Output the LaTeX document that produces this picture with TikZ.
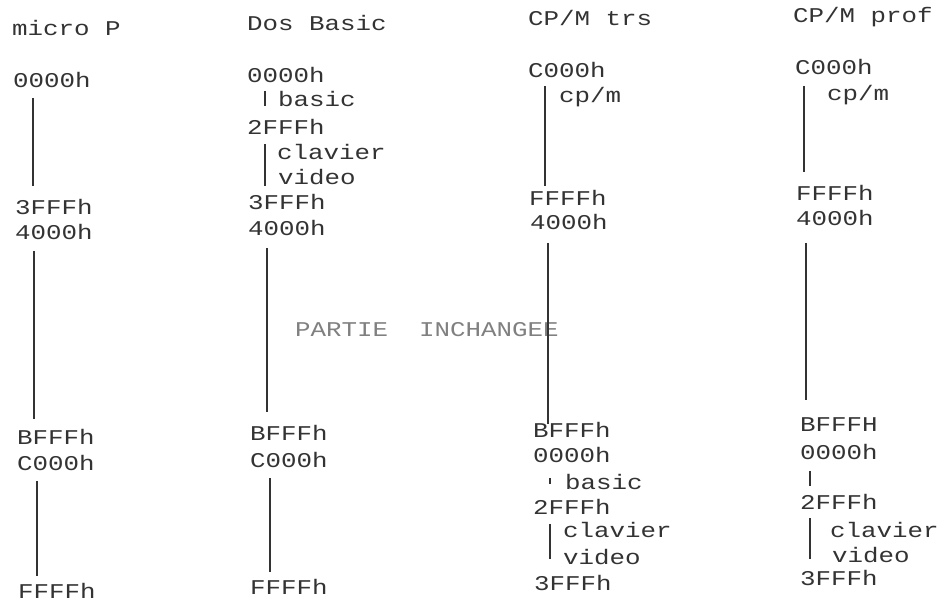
\documentclass[tikz,border=0pt]{standalone}
\usepackage{fontspec}
\newfontfamily\dotfont[FakeStretch=1.23]{Liberation Mono}
\usetikzlibrary{positioning}

\tikzset{
	addr/.style={anchor=west, inner sep=0pt, text=black!80, font={\fontsize{21}{21}\dotfont}},
	note/.style={addr, text=black!50},
	memline/.style={line width=1.1pt, draw=black!80},
}

\begin{document}
\begin{tikzpicture}[x=1pt, y=-1pt]
	\useasboundingbox (0,0) rectangle (939,605);

	% micro P
	\node[addr](mpTitle) at (12,28){micro P};
	\node[addr](mp0000) at (13,80){0000h};
	\node[addr](mp3FFF) at (15,207){3FFFh};
	\node[addr](mp4000) at (15,232){4000h};
	\node[addr](mpBFFF) at (17,437){BFFFh};
	\node[addr](mpC000) at (17,463){C000h};
	\node[addr](mpFFFF) at (18,591){FFFFh};
	\draw[memline, shorten <=10pt, shorten >=13pt] ([xshift=20pt]mp0000.south west) -- ([xshift=20pt]mp0000.south west |- mp3FFF.north);
	\draw[memline, shorten <=11pt, shorten >=10pt] ([xshift=19pt]mp4000.south west) -- ([xshift=19pt]mp4000.south west |- mpBFFF.north);
	\draw[memline, shorten <=10pt, shorten >=7pt] ([xshift=20pt]mpC000.south west) -- ([xshift=20pt]mpC000.south west |- mpFFFF.north);

	% Dos Basic
	\node[addr](dbTitle) at (247,23){Dos Basic};
	\node[addr](db0000) at (247,75){0000h};
	\node[addr](dbBasic) at (278,99){basic};
	\node[addr](db2FFF) at (247,127){2FFFh};
	\node[addr](dbClavier) at (277,152){clavier};
	\node[addr](dbVideo) at (278,177){video};
	\node[addr](db3FFF) at (248,202){3FFFh};
	\node[addr](db4000) at (248,228){4000h};
	\node[addr](dbBFFF) at (250,433){BFFFh};
	\node[addr](dbC000) at (250,460){C000h};
	\node[addr](dbFFFF) at (250,587){FFFFh};
	\draw[memline, shorten <=8pt, shorten >=13pt] ([xshift=18pt]db0000.south west) -- ([xshift=18pt]db0000.south west |- db2FFF.north);
	\draw[memline, shorten <=9pt, shorten >=8pt] ([xshift=18pt]db2FFF.south west) -- ([xshift=18pt]db2FFF.south west |- db3FFF.north);
	\draw[memline, shorten <=12pt, shorten >=13pt] ([xshift=19pt]db4000.south west) -- ([xshift=19pt]db4000.south west |- dbBFFF.north);
	\draw[memline, shorten <=10pt, shorten >=7pt] ([xshift=20pt]dbC000.south west) -- ([xshift=20pt]dbC000.south west |- dbFFFF.north);

	\node[note](partie) at (295,330){PARTIE\ \ INCHANGEE};

	% CP/M trs
	\node[addr](ctTitle) at (528,18){CP/M trs};
	\node[addr](ctC000) at (528,70){C000h};
	\node[addr](ctCpm) at (559,97){cp/m};
	\node[addr](ctFFFF) at (529,198){FFFFh};
	\node[addr](ct4000) at (530,222){4000h};
	\node[addr](ctBFFF) at (533,430){BFFFh};
	\node[addr](ct0000) at (533,455){0000h};
	\node[addr](ctBasic) at (565,482){basic};
	\node[addr](ct2FFF) at (533,507){2FFFh};
	\node[addr](ctClavier) at (563,530){clavier};
	\node[addr](ctVideo) at (563,557){video};
	\node[addr](ct3FFF) at (534,583){3FFFh};
	\draw[memline, shorten <=8pt, shorten >=4pt] ([xshift=17pt]ctC000.south west) -- ([xshift=17pt]ctC000.south west |- ctFFFF.north);
	\draw[memline, shorten <=13pt, shorten >=-2pt] ([xshift=18pt]ct4000.south west) -- ([xshift=18pt]ct4000.south west |- ctBFFF.north);
	\draw[memline, shorten <=15pt, shorten >=15pt] ([xshift=17pt]ct0000.south west) -- ([xshift=17pt]ct0000.south west |- ct2FFF.north);
	\draw[memline, shorten <=9pt, shorten >=16pt] ([xshift=17pt]ct2FFF.south west) -- ([xshift=17pt]ct2FFF.south west |- ct3FFF.north);

	% CP/M prof
	\node[addr](cpTitle) at (793,17){CP/M prof};
	\node[addr](cpC000) at (795,67){C000h};
	\node[addr](cpCpm) at (827,95){cp/m};
	\node[addr](cpFFFF) at (796,193){FFFFh};
	\node[addr](cp4000) at (796,218){4000h};
	\node[addr](cpBFFF) at (800,425){BFFFH};
	\node[addr](cp0000) at (800,452){0000h};
	\node[addr](cp2FFF) at (800,502){2FFFh};
	\node[addr](cpClavier) at (830,530){clavier};
	\node[addr](cpVideo) at (832,555){video};
	\node[addr](cp3FFF) at (800,578){3FFFh};
	\draw[memline, shorten <=11pt, shorten >=13pt] ([xshift=9pt]cpC000.south west) -- ([xshift=9pt]cpC000.south west |- cpFFFF.north);
	\draw[memline, shorten <=17pt, shorten >=18pt] ([xshift=10pt]cp4000.south west) -- ([xshift=10pt]cp4000.south west |- cpBFFF.north);
	\draw[memline, shorten <=11pt, shorten >=8pt] ([xshift=10pt]cp0000.south west) -- ([xshift=10pt]cp0000.south west |- cp2FFF.north);
	\draw[memline, shorten <=8pt, shorten >=11pt] ([xshift=10pt]cp2FFF.south west) -- ([xshift=10pt]cp2FFF.south west |- cp3FFF.north);
\end{tikzpicture}
\end{document}
